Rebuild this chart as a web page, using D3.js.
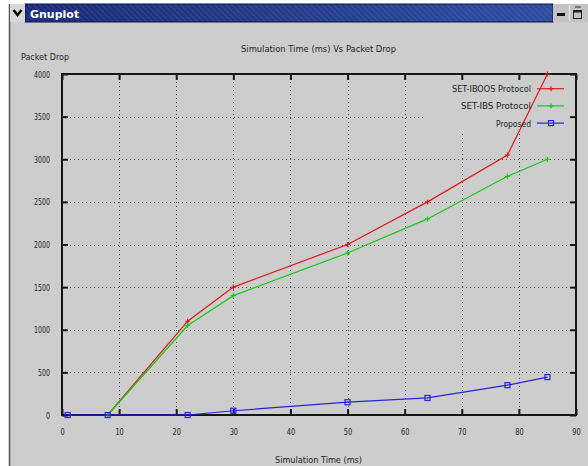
<!DOCTYPE html>
<html><head><meta charset="utf-8">
<script src="https://cdn.jsdelivr.net/npm/d3@7"></script>
<style>body{margin:0;background:#fff}svg{display:block}</style>
</head><body><svg id="c" width="588" height="466"></svg>
<script>
// ---- data ----
const timeProposed = [1, 8, 22, 30, 50, 64, 78, 85];
const timeProtocols = [8, 22, 30, 50, 64, 78, 85];
const dropIBOOS = [0, 1100, 1500, 2000, 2500, 3050, 4000];
const dropIBS = [0, 1050, 1400, 1900, 2300, 2800, 3000];
const dropProposed = [0, 0, 0, 50, 150, 200, 350, 445];
const xTickValues = [0, 10, 20, 30, 40, 50, 60, 70, 80, 90];
const yTickValues = [0, 500, 1000, 1500, 2000, 2500, 3000, 3500, 4000];
const seriesNames = ["SET-IBOOS Protocol", "SET-IBS Protocol", "Proposed"];
const seriesColors = ["#dd1a1a", "#18c818", "#2424dc"];
const chartTitle = "Simulation Time (ms) Vs Packet Drop";
const xTitle = "Simulation Time (ms)";
const yTitle = "Packet Drop";
const windowTitle = "Gnuplot";

const FONT = "'Liberation Sans Narrow','DejaVu Sans Condensed','Liberation Sans',sans-serif";
const svg = d3.select("#c");
const W = 588, H = 466;
const L = 62, R = 576, T = 74, B = 415;
const BG = "#cdcdcd";

// ---- window chrome ----
const defs = svg.append("defs");
const grad = defs.append("linearGradient").attr("id", "tb").attr("x1", 0).attr("x2", 1);
grad.append("stop").attr("offset", 0).attr("stop-color", "#1b2a78");
grad.append("stop").attr("offset", 1).attr("stop-color", "#2f4d9f");
const pat = defs.append("pattern").attr("id", "hatch").attr("width", 4).attr("height", 4)
  .attr("patternUnits", "userSpaceOnUse").attr("patternTransform", "rotate(-45)");
pat.append("line").attr("x1", 0).attr("y1", 0).attr("x2", 0).attr("y2", 4)
  .attr("stroke", "#8aa0e0").attr("stroke-width", 1).attr("opacity", 0.35);

svg.append("rect").attr("x", 0).attr("y", 0).attr("width", W).attr("height", H).attr("fill", "#fff");
svg.append("rect").attr("x", 9).attr("y", 4).attr("width", W - 9).attr("height", H - 4).attr("fill", BG);
svg.append("line").attr("x1", 9.5).attr("x2", 9.5).attr("y1", 4).attr("y2", H).attr("stroke", "#555").attr("stroke-width", 1.5);
// title bar
svg.append("rect").attr("x", 25).attr("y", 4).attr("width", 528).attr("height", 18).attr("fill", "url(#tb)");
svg.append("rect").attr("x", 25).attr("y", 4).attr("width", 528).attr("height", 18).attr("fill", "url(#hatch)");
svg.append("rect").attr("x", 25).attr("y", 4).attr("width", 528).attr("height", 18).attr("fill", "none").attr("stroke", "#0c1440").attr("stroke-width", 1);
// chevron box
svg.append("rect").attr("x", 10).attr("y", 4).attr("width", 15).attr("height", 18).attr("fill", "#d8d8d8");
svg.append("path").attr("d", "M13.5,10 L17.5,15 L21.5,10").attr("fill", "none").attr("stroke", "#000").attr("stroke-width", 2.4);
svg.append("text").attr("x", 30).attr("y", 17.5).attr("fill", "#fff").attr("font-family", "'DejaVu Sans',sans-serif")
  .attr("font-weight", "bold").attr("font-size", 11).text(windowTitle);
// right buttons
svg.append("rect").attr("x", 553).attr("y", 4).attr("width", 35).attr("height", 18).attr("fill", "#c4c4c4");
svg.append("rect").attr("x", 557).attr("y", 13).attr("width", 8).attr("height", 3).attr("fill", "#111");
svg.append("line").attr("x1", 569.5).attr("x2", 569.5).attr("y1", 5).attr("y2", 21).attr("stroke", "#e8e8e8");
svg.append("rect").attr("x", 573.5).attr("y", 10.5).attr("width", 8).attr("height", 8).attr("fill", "none").attr("stroke", "#222");
svg.append("rect").attr("x", 573.5).attr("y", 10.5).attr("width", 8).attr("height", 2).attr("fill", "#222");
svg.append("rect").attr("x", 575).attr("y", 6).attr("width", 6).attr("height", 2).attr("fill", "#777");

// ---- scales ----
const x = d3.scaleLinear().domain([0, 90]).range([L, R]);
const y = d3.scaleLinear().domain([0, 4000]).range([B, T]);

function fit(sel, w) { sel.attr("textLength", w).attr("lengthAdjust", "spacingAndGlyphs"); }

// ---- grid ----
const grid = svg.append("g").attr("stroke", "#4a4a4a").attr("stroke-width", 1).attr("stroke-dasharray", "1,3");
grid.selectAll("line.v").data(xTickValues.filter(v => v > 0 && v < 90)).join("line")
  .attr("x1", d => Math.round(x(d)) + 0.5).attr("x2", d => Math.round(x(d)) + 0.5).attr("y1", B).attr("y2", T);
grid.selectAll("line.h").data(yTickValues.filter(v => v > 0 && v < 4000)).join("line")
  .attr("y1", d => Math.round(y(d)) + 0.5).attr("y2", d => Math.round(y(d)) + 0.5).attr("x1", L).attr("x2", R);
// key area is kept clear of the grid
svg.append("rect").attr("x", 423).attr("y", T + 1).attr("width", R - 424).attr("height", 59).attr("fill", BG);

// ---- axes ----
function styleAxis(g) {
  g.select(".domain").remove();
  g.selectAll(".tick line").attr("stroke", "#151515").attr("stroke-width", 2);
  g.selectAll("text").attr("font-family", FONT).attr("font-size", 9.5).attr("fill", "#222");
}
const gx = svg.append("g").attr("transform", `translate(0,${B})`)
  .call(d3.axisBottom(x).tickValues(xTickValues).tickSize(-6).tickPadding(13).tickFormat(d3.format("d")));
styleAxis(gx);
gx.selectAll("text").each(function () { fit(d3.select(this), this.textContent.length * 4.2); });
const gy = svg.append("g").attr("transform", `translate(${L},0)`)
  .call(d3.axisLeft(y).tickValues(yTickValues).tickSize(-6).tickPadding(12).tickFormat(d3.format("d")));
styleAxis(gy);
gy.selectAll("text").each(function () { fit(d3.select(this), this.textContent.length * 4); });
const gt = svg.append("g").attr("transform", `translate(0,${T})`)
  .call(d3.axisTop(x).tickValues(xTickValues).tickSize(-6).tickFormat(""));
styleAxis(gt);
const gr = svg.append("g").attr("transform", `translate(${R},0)`)
  .call(d3.axisRight(y).tickValues(yTickValues).tickSize(-6).tickFormat(""));
styleAxis(gr);
// frame
svg.append("rect").attr("x", L).attr("y", T).attr("width", R - L).attr("height", B - T)
  .attr("fill", "none").attr("stroke", "#151515").attr("stroke-width", 2);

// ---- titles ----
function label(txt, xx, yy, anchor, w) {
  const t = svg.append("text").attr("x", xx).attr("y", yy).attr("text-anchor", anchor)
    .attr("font-family", FONT).attr("font-size", 9.5).attr("fill", "#222").text(txt);
  if (w) fit(t, w);
  return t;
}
label(chartTitle, 318.5, 51.5, "middle", 155);
label(yTitle, 21, 60, "start", 48);
label(xTitle, 318.5, 462.5, "middle", 87);

// ---- series ----
const series = [
  { name: seriesNames[0], color: seriesColors[0], xs: timeProtocols, ys: dropIBOOS, marker: "plus" },
  { name: seriesNames[1], color: seriesColors[1], xs: timeProtocols, ys: dropIBS, marker: "plus" },
  { name: seriesNames[2], color: seriesColors[2], xs: timeProposed, ys: dropProposed, marker: "square" }
];
const line = d3.line().x(d => x(d[0])).y(d => y(d[1]));
function drawMarker(g, type, cx, cy, color) {
  if (type === "plus") {
    g.append("path").attr("d", `M${cx - 2.5},${cy} H${cx + 2.5} M${cx},${cy - 2.5} V${cy + 2.5}`)
      .attr("stroke", color).attr("stroke-width", 1.2).attr("fill", "none");
  } else {
    g.append("rect").attr("x", cx - 2.5).attr("y", cy - 2.5).attr("width", 5).attr("height", 5)
      .attr("stroke", color).attr("stroke-width", 1.2).attr("fill", "none");
  }
}
const legendWidths = [79, 70, 35];
series.forEach((s, i) => {
  const pts = s.xs.map((v, k) => [v, s.ys[k]]);
  const g = svg.append("g");
  g.append("path").datum(pts).attr("d", line).attr("fill", "none")
    .attr("stroke", s.color).attr("stroke-width", 1.2);
  pts.forEach(p => drawMarker(g, s.marker, x(p[0]), y(p[1]), s.color));
  // key entry
  const ky = 88.7 + i * 17.2;
  label(s.name, 531, ky + 3.5, "end", legendWidths[i]);
  g.append("line").attr("x1", 537).attr("x2", 564).attr("y1", ky).attr("y2", ky)
    .attr("stroke", s.color).attr("stroke-width", 1.2);
  drawMarker(g, s.marker, 551, ky, s.color);
});
</script></body></html>
